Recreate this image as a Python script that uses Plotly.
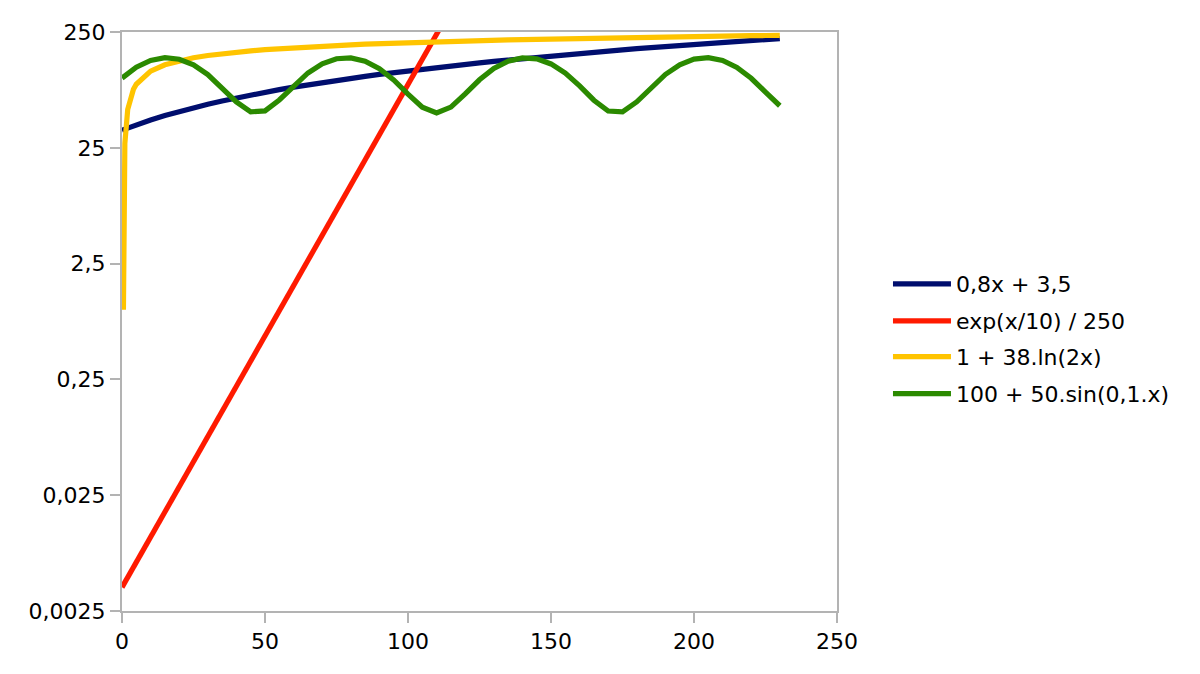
import plotly.graph_objects as go

# x positions (shared grid, step 5)
x_grid = list(range(0, 235, 5))
x_red = list(range(0, 120, 5))
x_yellow = [0.5, 1, 2, 3, 4] + list(range(5, 235, 5))

navy_vals = [35.5, 39.5, 43.5, 47.5, 51.5, 55.5, 59.5, 63.5, 67.5, 71.5, 75.5, 79.5,
             83.5, 87.5, 91.5, 95.5, 99.5, 103.5, 107.5, 111.5, 115.5, 119.5, 123.5,
             127.5, 131.5, 135.5, 139.5, 143.5, 147.5, 151.5, 155.5, 159.5, 163.5,
             167.5, 171.5, 175.5, 179.5, 183.5, 187.5, 191.5, 195.5, 199.5, 203.5,
             207.5, 211.5, 215.5, 219.5]

red_vals = [0.004, 0.0066, 0.01087, 0.01793, 0.02956, 0.04873, 0.08034, 0.1325,
            0.2184, 0.3601, 0.5937, 0.9788, 1.614, 2.661, 4.387, 7.232, 11.92,
            19.66, 32.41, 53.44, 88.11, 145.3, 239.5, 394.9]

yellow_vals = [1.0, 27.34, 53.68, 69.09, 80.02, 88.50, 114.84, 130.25, 141.18, 149.66,
               156.58, 162.44, 167.52, 171.99, 176.0, 179.62, 182.93, 185.97, 188.78,
               191.40, 193.86, 196.16, 198.33, 200.39, 202.34, 204.19, 205.96, 207.65,
               209.26, 210.82, 212.31, 213.74, 215.12, 216.46, 217.74, 218.99, 220.20,
               221.36, 222.50, 223.60, 224.67, 225.71, 226.73, 227.71, 228.68, 229.61,
               230.53, 231.42, 232.30, 233.15, 233.99]

green_vals = [100.0, 123.97, 142.07, 149.87, 145.46, 129.92, 107.06, 82.46, 62.16, 51.12,
              52.05, 64.72, 86.03, 110.75, 132.85, 146.9, 149.47, 139.93, 120.61, 96.24,
              72.80, 56.02, 50.0, 56.22, 73.17, 96.68, 121.01, 140.19, 149.53, 146.74,
              132.51, 110.32, 85.61, 64.41, 51.93, 51.17, 62.45, 82.87, 107.5, 130.27,
              145.65, 149.84, 141.83, 123.58, 99.56, 75.64, 57.69]

series_names = ["0,8x + 3,5", "exp(x/10) / 250", "1 + 38.ln(2x)", "100 + 50.sin(0,1.x)"]
colors = ["#000e6e", "#ff1a00", "#ffc400", "#2b8a00"]

y_tickvals = [0.0025, 0.025, 0.25, 2.5, 25, 250]
y_ticktext = ["0,0025", "0,025", "0,25", "2,5", "25", "250"]
x_tickvals = [0, 50, 100, 150, 200, 250]

FONT = "DejaVu Sans"
FS = 22

fig = go.Figure()
legend_ids = ["legend", "legend2", "legend3", "legend4"]
legend_y = [0.5648, 0.5009, 0.4391, 0.3751]
for i, (xs, ys) in enumerate([(x_grid, navy_vals), (x_red, red_vals),
                              (x_yellow, yellow_vals), (x_grid, green_vals)]):
    fig.add_trace(go.Scatter(x=xs, y=ys, mode="lines", name=series_names[i],
                             legend=legend_ids[i],
                             line=dict(color=colors[i], width=5.2)))

layout_legends = {}
for lid, ly in zip(legend_ids, legend_y):
    layout_legends[lid] = dict(x=1.0713, xanchor="left", y=ly, yanchor="middle",
                               font=dict(family=FONT, size=FS, color="#000000"),
                               itemwidth=58, bgcolor="rgba(0,0,0,0)")

fig.update_layout(
    width=1184, height=658,
    paper_bgcolor="white", plot_bgcolor="white",
    margin=dict(l=114, r=355, t=21, b=54),
    font=dict(family=FONT, size=FS, color="#000000"),
    showlegend=True,
    **layout_legends,
)
fig.update_xaxes(range=[0, 250], tickvals=x_tickvals, showgrid=False, zeroline=False,
                 showline=True, linecolor="#b3b3b3", linewidth=2, mirror=True,
                 ticks="outside", ticklen=10, tickwidth=2, tickcolor="#b3b3b3",
                 tickfont=dict(family=FONT, size=FS))
fig.update_yaxes(type="log", range=[-2.60206, 2.39794], tickvals=y_tickvals,
                 ticktext=y_ticktext, showgrid=False, zeroline=False,
                 showline=True, linecolor="#b3b3b3", linewidth=2, mirror=True,
                 ticks="outside", ticklen=10, tickwidth=2, tickcolor="#b3b3b3",
                 tickfont=dict(family=FONT, size=FS))

fig.write_html("out.html")
